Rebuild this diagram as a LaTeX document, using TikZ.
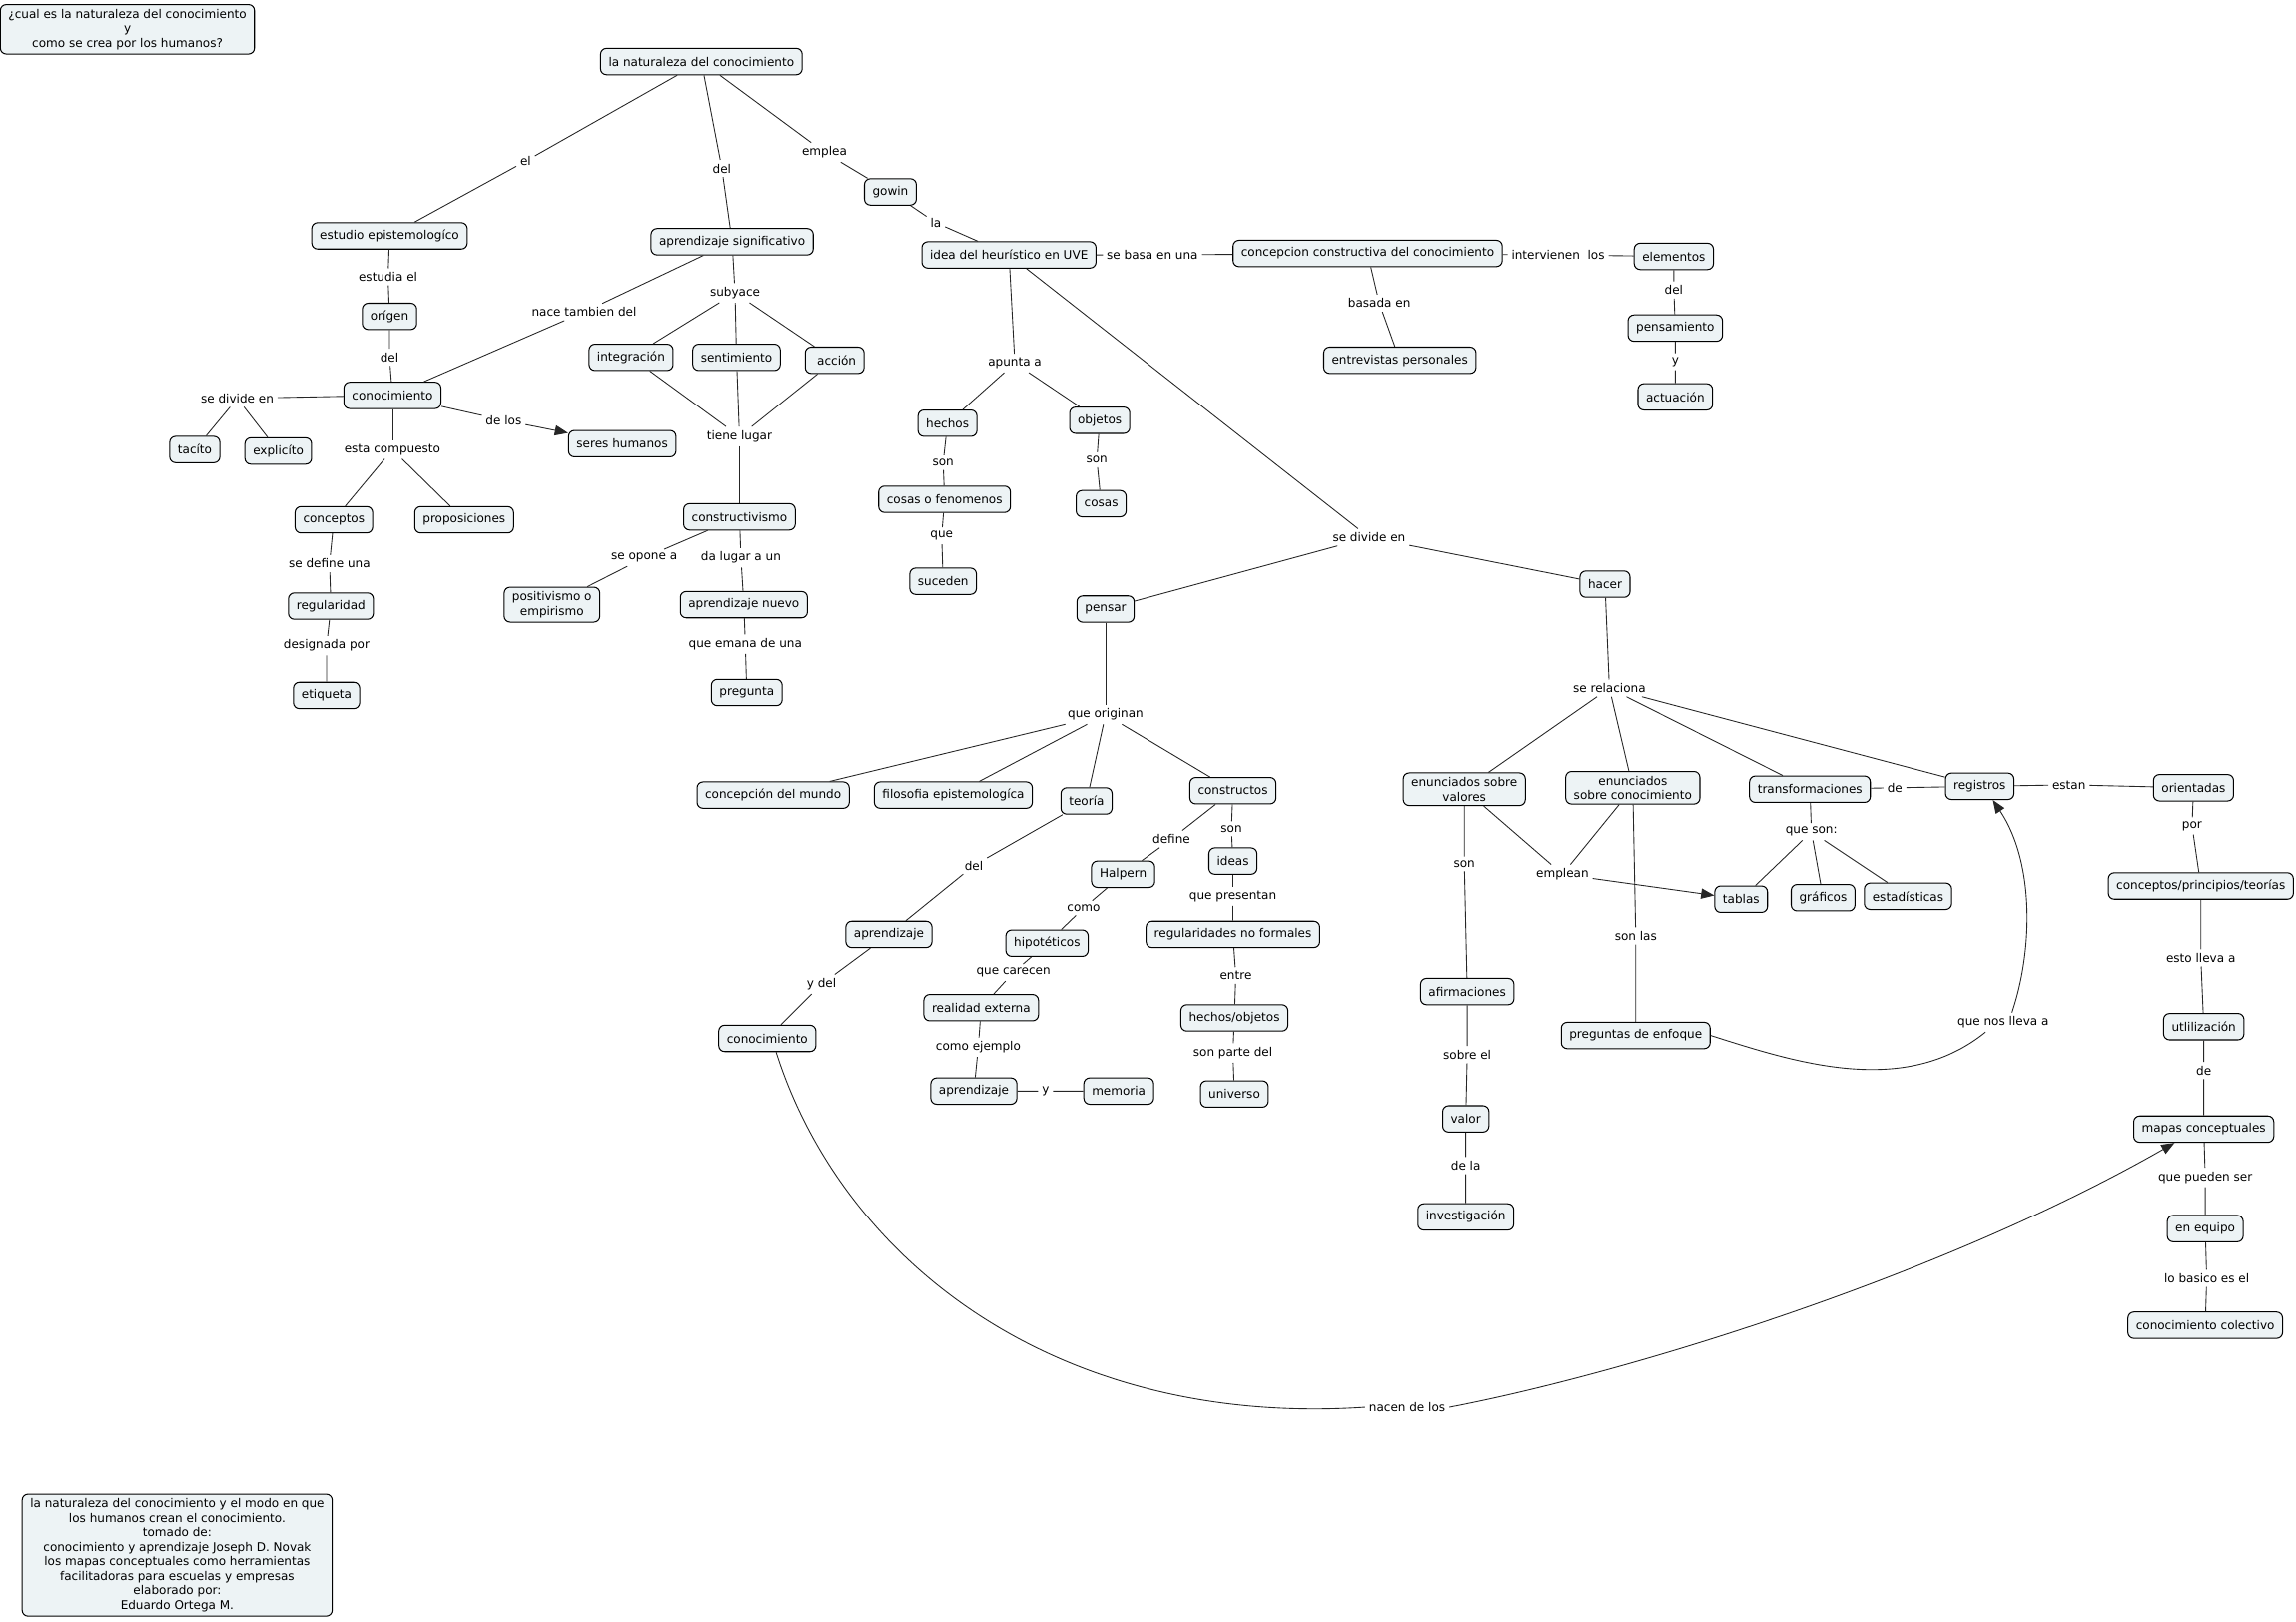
\documentclass[tikz,border=0pt]{standalone}
\usepackage{fontspec}
\setmainfont{DejaVu Sans}
\usetikzlibrary{arrows.meta}
\definecolor{cfill}{HTML}{EDF3F5}
\begin{document}
\begin{tikzpicture}[x=1pt,y=-1pt,
  every node/.style={font=\fontsize{8.2}{9.9}\selectfont, align=center},
  cc/.style={draw=black, line width=0.7pt, fill=cfill, rounded corners=4pt, inner xsep=5.5pt, inner ysep=3pt, minimum height=18pt},
  lp/.style={inner sep=2.5pt},
  ln/.style={line width=0.6pt, draw=black!85},
  arr/.style={ln, -{Triangle[length=9pt,width=7pt]}}]
\useasboundingbox (0,0) rectangle (1568,1107.6);
% concepts
\node[cc] (q) at (87,20) {¿cual es la naturaleza del conocimiento\\y\\como se crea por los humanos?};
\node[cc] (root) at (479,42) {la naturaleza del conocimiento};
\node[cc] (estudio) at (266,161) {estudio epistemologíco};
\node[cc] (origen) at (266,216) {orígen};
\node[cc] (conocA) at (268,270) {conocimiento};
\node[cc] (tacito) at (133,307) {tacíto};
\node[cc] (explicito) at (190,308) {explicíto};
\node[cc] (seres) at (425,303) {seres humanos};
\node[cc] (conceptos) at (228,355) {conceptos};
\node[cc] (proposiciones) at (317,355) {proposiciones};
\node[cc] (regularidad) at (226,414) {regularidad};
\node[cc] (etiqueta) at (223,475) {etiqueta};
\node[cc] (aprsig) at (500,165) {aprendizaje significativo};
\node[cc] (integracion) at (431,244) {integración};
\node[cc] (sentimiento) at (503,244) {sentimiento};
\node[cc] (accion) at (570,246) {\ acción};
\node[cc] (constructivismo) at (505,353) {constructivismo};
\node[cc] (positivismo) at (377,413) {positivismo o\\empirismo};
\node[cc] (aprnuevo) at (508,413) {aprendizaje nuevo};
\node[cc] (pregunta) at (510,473) {pregunta};
\node[cc] (gowin) at (608,131) {gowin};
\node[cc] (idea) at (689,174) {idea del heurístico en UVE};
\node[cc] (concepcion) at (934,173) {concepcion constructiva del conocimiento};
\node[cc] (entrevistas) at (956,246) {entrevistas personales};
\node[cc] (elementos) at (1143,175) {elementos};
\node[cc] (pensamiento) at (1144,224) {pensamiento};
\node[cc] (actuacion) at (1144,271) {actuación};
\node[cc] (hechos) at (647,289) {hechos};
\node[cc] (objetos) at (751,287) {objetos};
\node[cc] (cosasfen) at (645,341) {cosas o fenomenos};
\node[cc] (cosas) at (752,344) {cosas};
\node[cc] (suceden) at (644,397) {suceden};
\node[cc] (pensar) at (755,416) {pensar};
\node[cc] (hacer) at (1096,399) {hacer};
\node[cc] (mundo) at (528,543) {concepción del mundo};
\node[cc] (filosofia) at (651,543) {filosofia epistemologíca};
\node[cc] (teoria) at (742,547) {teoría};
\node[cc] (constructos) at (842,540) {constructos};
\node[cc] (halpern) at (767,597) {Halpern};
\node[cc] (ideas) at (842,588) {ideas};
\node[cc] (aprendB) at (607,638) {aprendizaje};
\node[cc] (hipoteticos) at (715,644) {hipotéticos};
\node[cc] (regnf) at (842,638) {regularidades no formales};
\node[cc] (realidad) at (670,688) {realidad externa};
\node[cc] (hechobj) at (843,695) {hechos/objetos};
\node[cc] (aprendC) at (665,745) {aprendizaje};
\node[cc] (memoria) at (764,745) {memoria};
\node[cc] (universo) at (843,747) {universo};
\node[cc] (conocB) at (524,709) {conocimiento};
\node[cc] (envalores) at (1000,539) {enunciados sobre\\valores};
\node[cc] (enconoc) at (1115,538) {enunciados\\sobre conocimiento};
\node[cc] (transform) at (1236,539) {transformaciones};
\node[cc] (registros) at (1352,537) {registros};
\node[cc] (orientadas) at (1498,538) {orientadas};
\node[cc] (tablas) at (1189,614) {tablas};
\node[cc] (graficos) at (1245,613) {gráficos};
\node[cc] (estadisticas) at (1303,612) {estadísticas};
\node[cc] (cpt) at (1503,605) {conceptos/principios/teorías};
\node[cc] (afirmaciones) at (1002,677) {afirmaciones};
\node[cc] (pregenf) at (1117,707) {preguntas de enfoque};
\node[cc] (utilizacion) at (1505,701) {utlilización};
\node[cc] (valor) at (1001,764) {valor};
\node[cc] (investigacion) at (1001,831) {investigación};
\node[cc] (mapas) at (1505,771) {mapas conceptuales};
\node[cc] (enequipo) at (1506,839) {en equipo};
\node[cc] (colectivo) at (1506,905) {conocimiento colectivo};
\node[cc] (footer) at (121,1062) {la naturaleza del conocimiento y el modo en que\\los humanos crean el conocimiento.\\tomado de:\\conocimiento y aprendizaje Joseph D. Novak\\los mapas conceptuales como herramientas\\facilitadoras para escuelas y empresas\\elaborado por:\\Eduardo Ortega M.};
% linking phrases
\node[lp] (l1) at (359,110) {el};
\node[lp] (l2) at (493,115) {del};
\node[lp] (l3) at (563,104) {emplea};
\node[lp] (l4) at (639,152) {la};
\node[lp] (l5) at (265,189) {estudia el};
\node[lp] (l6) at (266,244) {del};
\node[lp] (l7) at (399,213) {nace tambien del};
\node[lp] (l8) at (502,200) {subyace};
\node[lp] (l9) at (162,272) {se divide en};
\node[lp] (l10) at (344,287) {de los};
\node[lp] (l11) at (268,307) {esta compuesto};
\node[lp] (l12) at (505,298) {tiene lugar};
\node[lp] (l13) at (225,385) {se define una};
\node[lp] (l14) at (223,441) {designada por};
\node[lp] (l15) at (440,381) {se opone a};
\node[lp] (l16) at (506,381) {da lugar a un};
\node[lp] (l17) at (509,440) {que emana de una};
\node[lp] (l18) at (787,174) {se basa en una};
\node[lp] (l19) at (1064,174) {intervienen\ \ los};
\node[lp] (l20) at (942,207) {basada en};
\node[lp] (l21) at (1143,198) {del};
\node[lp] (l22) at (1144,247) {y};
\node[lp] (l23) at (693,248) {apunta a};
\node[lp] (l24) at (644,316) {son};
\node[lp] (l25) at (749,314) {son};
\node[lp] (l26) at (643,366) {que};
\node[lp] (l27) at (935,367) {se divide en};
\node[lp] (l28) at (755,488) {que originan};
\node[lp] (l29) at (1099,470) {se relaciona};
\node[lp] (l30) at (665,591) {del};
\node[lp] (l31) at (800,573) {define};
\node[lp] (l32) at (841,566) {son};
\node[lp] (l33) at (740,620) {como};
\node[lp] (l34) at (842,612) {que presentan};
\node[lp] (l35) at (692,664) {que carecen};
\node[lp] (l36) at (844,666) {entre};
\node[lp] (l37) at (668,715) {como ejemplo};
\node[lp] (l38) at (842,719) {son parte del};
\node[lp] (l39) at (714,745) {y};
\node[lp] (l40) at (561,672) {y del};
\node[lp] (l41) at (1000,590) {son};
\node[lp] (l42) at (1067,597) {emplean};
\node[lp] (l43) at (1117,639) {son las};
\node[lp] (l44) at (1294,538) {de};
\node[lp] (l45) at (1413,536) {estan};
\node[lp] (l46) at (1237,568) {que son:};
\node[lp] (l47) at (1497,564) {por};
\node[lp] (l48) at (1503,654) {esto lleva a};
\node[lp] (l49) at (1368,698) {que nos lleva a};
\node[lp] (l50) at (1002,720) {sobre el};
\node[lp] (l51) at (1001,796) {de la};
\node[lp] (l52) at (1505,731) {de};
\node[lp] (l53) at (1506,804) {que pueden ser};
\node[lp] (l54) at (1507,873) {lo basico es el};
\node[lp] (l55) at (961,961) {nacen de los};
% connectors
\draw[ln] (root) -- (l1) -- (estudio);
\draw[ln] (root) -- (l2) -- (aprsig);
\draw[ln] (root) -- (l3) -- (gowin);
\draw[ln] (gowin) -- (l4) -- (idea);
\draw[ln] (estudio) -- (l5) -- (origen) -- (l6) -- (conocA);
\draw[ln] (aprsig) -- (l7) -- (conocA);
\draw[ln] (aprsig) -- (l8);
\draw[ln] (l8) -- (integracion);
\draw[ln] (l8) -- (sentimiento);
\draw[ln] (l8) -- (accion);
\draw[ln] (integracion) -- (l12);
\draw[ln] (sentimiento) -- (l12);
\draw[ln] (accion) -- (l12);
\draw[ln] (l12) -- (constructivismo);
\draw[ln] (conocA) -- (l9);
\draw[ln] (l9) -- (tacito);
\draw[ln] (l9) -- (explicito);
\draw[ln] (conocA) -- (l10);
\draw[arr] (l10) -- (seres);
\draw[ln] (conocA) -- (l11);
\draw[ln] (l11) -- (conceptos);
\draw[ln] (l11) -- (proposiciones);
\draw[ln] (conceptos) -- (l13) -- (regularidad) -- (l14) -- (etiqueta);
\draw[ln] (constructivismo) -- (l15) -- (positivismo);
\draw[ln] (constructivismo) -- (l16) -- (aprnuevo) -- (l17) -- (pregunta);
\draw[ln] (idea) -- (l18) -- (concepcion) -- (l19) -- (elementos) -- (l21) -- (pensamiento) -- (l22) -- (actuacion);
\draw[ln] (concepcion) -- (l20) -- (entrevistas);
\draw[ln] (idea) -- (l23);
\draw[ln] (l23) -- (hechos);
\draw[ln] (l23) -- (objetos);
\draw[ln] (hechos) -- (l24) -- (cosasfen) -- (l26) -- (suceden);
\draw[ln] (objetos) -- (l25) -- (cosas);
\draw[ln] (idea) -- (l27);
\draw[ln] (l27) -- (pensar);
\draw[ln] (l27) -- (hacer);
\draw[ln] (pensar) -- (l28);
\draw[ln] (l28) -- (mundo);
\draw[ln] (l28) -- (filosofia);
\draw[ln] (l28) -- (teoria);
\draw[ln] (l28) -- (constructos);
\draw[ln] (teoria) -- (l30) -- (aprendB) -- (l40) -- (conocB);
\draw[ln] (constructos) -- (l31) -- (halpern) -- (l33) -- (hipoteticos) -- (l35) -- (realidad) -- (l37) -- (aprendC) -- (l39) -- (memoria);
\draw[ln] (constructos) -- (l32) -- (ideas) -- (l34) -- (regnf) -- (l36) -- (hechobj) -- (l38) -- (universo);
\draw[ln] (hacer) -- (l29);
\draw[ln] (l29) -- (envalores);
\draw[ln] (l29) -- (enconoc);
\draw[ln] (l29) -- (transform);
\draw[ln] (l29) -- (registros);
\draw[ln] (envalores) -- (l41) -- (afirmaciones) -- (l50) -- (valor) -- (l51) -- (investigacion);
\draw[ln] (envalores) -- (l42);
\draw[ln] (enconoc) -- (l42);
\draw[arr] (l42) -- (tablas);
\draw[ln] (enconoc) -- (l43) -- (pregenf);
\draw[ln] (transform) -- (l44) -- (registros) -- (l45) -- (orientadas) -- (l47) -- (cpt) -- (l48) -- (utilizacion) -- (l52) -- (mapas) -- (l53) -- (enequipo) -- (l54) -- (colectivo);
\draw[ln] (transform) -- (l46);
\draw[ln] (l46) -- (tablas);
\draw[ln] (l46) -- (graficos);
\draw[ln] (l46) -- (estadisticas);
% curved connectors
\draw[ln] ([xshift=6pt]conocB.south) .. controls (575,860) and (720,975) .. (l55.west);
\draw[arr] (l55.east) .. controls (1110,938) and (1325,872) .. ([xshift=-20pt]mapas.south);
\draw[ln] (pregenf.east) .. controls (1225,725) and (1300,750) .. ([xshift=-12pt]l49.south);
\draw[arr] ([xshift=6pt]l49.north) .. controls (1388,650) and (1390,590) .. ([xshift=9pt]registros.south);
\end{tikzpicture}
\end{document}
